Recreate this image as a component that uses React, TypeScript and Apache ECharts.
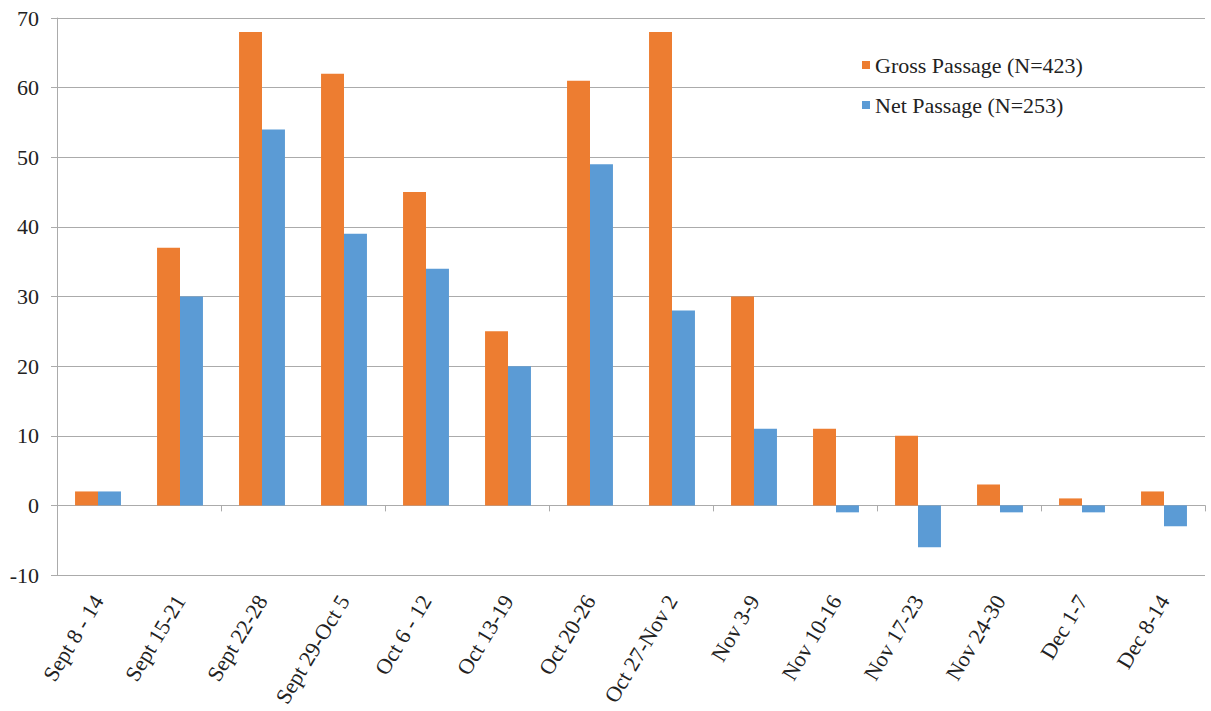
import React, { useEffect, useRef } from "react";
import * as echarts from "echarts";

const categories = [
  "Sept 8 - 14", "Sept 15-21", "Sept 22-28", "Sept 29-Oct 5", "Oct 6 - 12",
  "Oct 13-19", "Oct 20-26", "Oct 27-Nov 2", "Nov 3-9", "Nov 10-16",
  "Nov 17-23", "Nov 24-30", "Dec 1-7", "Dec 8-14",
];
const grossPassage = [2, 37, 68, 62, 45, 25, 61, 68, 30, 11, 10, 3, 1, 2];
const netPassage = [2, 30, 54, 39, 34, 20, 49, 28, 11, -1, -6, -1, -1, -3];
const seriesNames = ["Gross Passage (N=423)", "Net Passage (N=253)"];

const FONT = "Liberation Serif";
const GRID = "#ababab";

export default function App() {
  const ref = useRef<HTMLDivElement>(null);
  useEffect(() => {
    if (!ref.current) return;
    const chart = echarts.init(ref.current, undefined, { renderer: "svg" });
    chart.setOption({
      animation: false,
      backgroundColor: "#fff",
      textStyle: { fontFamily: FONT },
      grid: { left: 57, right: 6, top: 18, bottom: 136, containLabel: false },
      legend: {
        orient: "vertical",
        left: 857,
        top: 49,
        itemWidth: 8,
        itemHeight: 8,
        itemGap: 18,
        icon: "rect",
        textStyle: { fontFamily: FONT, fontSize: 22, color: "#222" },
        data: seriesNames,
      },
      xAxis: [
        {
          type: "category",
          data: categories,
          position: "bottom",
          axisLine: { show: true, onZero: true, lineStyle: { color: GRID, width: 1 } },
          axisTick: { show: true, length: 6, alignWithLabel: false, lineStyle: { color: GRID } },
          axisLabel: { show: false },
          splitLine: { show: false },
        },
        {
          type: "category",
          data: categories,
          position: "bottom",
          axisLine: { show: false, onZero: false },
          axisTick: { show: false },
          axisLabel: {
            show: true,
            interval: 0,
            rotate: 59,
            margin: 22,
            fontFamily: FONT,
            fontSize: 22,
            color: "#222",
          },
        },
      ],
      yAxis: {
        type: "value",
        min: -10,
        max: 70,
        interval: 10,
        axisLine: { show: true, lineStyle: { color: GRID } },
        axisTick: { show: true, length: 6, lineStyle: { color: GRID } },
        axisLabel: { margin: 18, fontFamily: FONT, fontSize: 22, color: "#222" },
        splitLine: { show: true, lineStyle: { color: GRID, width: 1 } },
      },
      series: [
        {
          name: seriesNames[0],
          type: "bar",
          xAxisIndex: 0,
          data: grossPassage,
          barGap: "0%",
          barCategoryGap: "44%",
          itemStyle: { color: "#ED7D31" },
        },
        {
          name: seriesNames[1],
          type: "bar",
          xAxisIndex: 0,
          data: netPassage,
          barGap: "0%",
          barCategoryGap: "44%",
          itemStyle: { color: "#5B9BD5" },
        },
      ],
    });
    return () => chart.dispose();
  }, []);
  return <div ref={ref} style={{ width: 1211, height: 711, position: "absolute", left: 0, top: 0 }} />;
}
